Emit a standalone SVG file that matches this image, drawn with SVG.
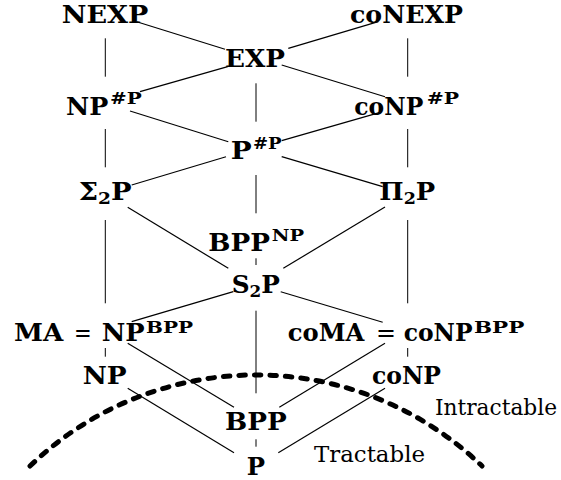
<svg xmlns="http://www.w3.org/2000/svg" width="561" height="480" viewBox="0 0 561 480">
<style>
.b { font-weight: bold; font-size: 25px; }
.s { font-size: 17px; }
.eq { font-weight: normal; }
.r { font-weight: normal; font-size: 22px; }
.ln { stroke: #000; stroke-width: 1.2; fill: none; }
.v { stroke: #000; stroke-width: 1; fill: none; }
.cut { fill: none; stroke: #000; stroke-width: 5; stroke-dasharray: 6.5 9; stroke-linecap: round; }
</style>
<rect x="0" y="0" width="561" height="480" fill="#fff"/>

<g id="connectors">
  <path class="v" d="M105.3 38.3V76.7M105.3 129V167.3M105.3 220V303.3M105.3 348V356.7"/>
  <path class="v" d="M407.7 38.3V76.7M407.7 129V167.3M407.7 220V303.3M407.7 348V356.7"/>
  <path class="v" d="M256 83.3V121.7M256 175V213.3M256 258.3V265M256 310.7V393.3M256 439.3V446.7"/>
  <line class="ln" x1="136.7" y1="21.7" x2="225" y2="49.3"/>
  <line class="ln" x1="378.3" y1="21.7" x2="288.3" y2="48.3"/>
  <line class="ln" x1="227.7" y1="66.7" x2="140" y2="91.7"/>
  <line class="ln" x1="281.7" y1="65" x2="385" y2="96.7"/>
  <line class="ln" x1="130" y1="111" x2="228.3" y2="141.7"/>
  <line class="ln" x1="379.3" y1="112.7" x2="281.7" y2="140.7"/>
  <line class="ln" x1="131.7" y1="185" x2="226" y2="156.7"/>
  <line class="ln" x1="382.7" y1="186.7" x2="281.7" y2="156.7"/>
  <line class="ln" x1="127.7" y1="207.3" x2="228.3" y2="268.3"/>
  <line class="ln" x1="385" y1="207" x2="283.3" y2="268.3"/>
  <line class="ln" x1="233.3" y1="291.7" x2="131.7" y2="321.7"/>
  <line class="ln" x1="280.7" y1="291.7" x2="382.7" y2="322.3"/>
  <line class="ln" x1="127.7" y1="343.3" x2="234" y2="407.3"/>
  <line class="ln" x1="385" y1="343.3" x2="279.3" y2="407.3"/>
  <line class="ln" x1="127.7" y1="388.3" x2="234" y2="452.7"/>
  <line class="ln" x1="385" y1="388.3" x2="278.3" y2="452.7"/>
</g>

<g font-family="DejaVu Serif, serif" fill="#000">
<g id="tractability-boundary">
  <path class="cut" d="M30 466A326 326 0 0 1 482 466"/>
  <text class="r" x="435" y="415" textLength="122" lengthAdjust="spacingAndGlyphs">Intractable</text>
  <text class="r" x="314" y="461.7" textLength="111" lengthAdjust="spacingAndGlyphs">Tractable</text>
</g>

<g id="NEXP"><text class="b" x="61.7" y="23" textLength="86.6" lengthAdjust="spacingAndGlyphs">NEXP</text></g>
<g id="coNEXP"><text class="b" x="350" y="23" textLength="113" lengthAdjust="spacingAndGlyphs">coNEXP</text></g>
<g id="EXP"><text class="b" x="225" y="67" textLength="60" lengthAdjust="spacingAndGlyphs">EXP</text></g>

<g id="NP-sharpP"><text class="b" x="66" y="115"><tspan textLength="42.3" lengthAdjust="spacingAndGlyphs">NP</tspan><tspan class="s" x="110" dy="-11" textLength="31.7" lengthAdjust="spacingAndGlyphs">#P</tspan></text></g>
<g id="coNP-sharpP"><text class="b" x="354.3" y="115"><tspan textLength="69" lengthAdjust="spacingAndGlyphs">coNP</tspan><tspan class="s" x="426.7" dy="-11" textLength="32.3" lengthAdjust="spacingAndGlyphs">#P</tspan></text></g>
<g id="P-sharpP"><text class="b" x="230.7" y="159.3"><tspan textLength="21" lengthAdjust="spacingAndGlyphs">P</tspan><tspan class="s" x="253" dy="-10" textLength="28.7" lengthAdjust="spacingAndGlyphs">#P</tspan></text></g>

<g id="Sigma2P"><text class="b" x="78.7" y="200" textLength="53" lengthAdjust="spacingAndGlyphs">Σ<tspan class="s" dy="4">2</tspan><tspan dy="-4">P</tspan></text></g>
<g id="Pi2P"><text class="b" x="379.3" y="200" textLength="56" lengthAdjust="spacingAndGlyphs">Π<tspan class="s" dy="4">2</tspan><tspan dy="-4">P</tspan></text></g>

<g id="BPP-NP"><text class="b" x="208.3" y="250.7"><tspan textLength="61.7" lengthAdjust="spacingAndGlyphs">BPP</tspan><tspan class="s" x="271.7" dy="-10" textLength="32.3" lengthAdjust="spacingAndGlyphs">NP</tspan></text></g>
<g id="S2P"><text class="b" x="231.7" y="292.7" textLength="48.3" lengthAdjust="spacingAndGlyphs">S<tspan class="s" dy="4">2</tspan><tspan dy="-4">P</tspan></text></g>

<g id="MA"><text class="b" x="14" y="341"><tspan textLength="49.3" lengthAdjust="spacingAndGlyphs">MA</tspan><tspan class="eq" x="74" textLength="17.7" lengthAdjust="spacingAndGlyphs">=</tspan><tspan x="101.7" textLength="43" lengthAdjust="spacingAndGlyphs">NP</tspan><tspan class="s" x="146" dy="-8" textLength="47" lengthAdjust="spacingAndGlyphs">BPP</tspan></text></g>
<g id="coMA"><text class="b" x="287.7" y="341"><tspan textLength="76.6" lengthAdjust="spacingAndGlyphs">coMA</tspan><tspan class="eq" x="376" textLength="20" lengthAdjust="spacingAndGlyphs">=</tspan><tspan x="403.7" textLength="69" lengthAdjust="spacingAndGlyphs">coNP</tspan><tspan class="s" x="474" dy="-8" textLength="50.3" lengthAdjust="spacingAndGlyphs">BPP</tspan></text></g>

<g id="NP"><text class="b" x="82.7" y="384" textLength="44" lengthAdjust="spacingAndGlyphs">NP</text></g>
<g id="coNP"><text class="b" x="372" y="384" textLength="69" lengthAdjust="spacingAndGlyphs">coNP</text></g>
<g id="BPP"><text class="b" x="225" y="430" textLength="61.7" lengthAdjust="spacingAndGlyphs">BPP</text></g>
<g id="P"><text class="b" x="246.7" y="475" textLength="18.3" lengthAdjust="spacingAndGlyphs">P</text></g>
</g>
</svg>
